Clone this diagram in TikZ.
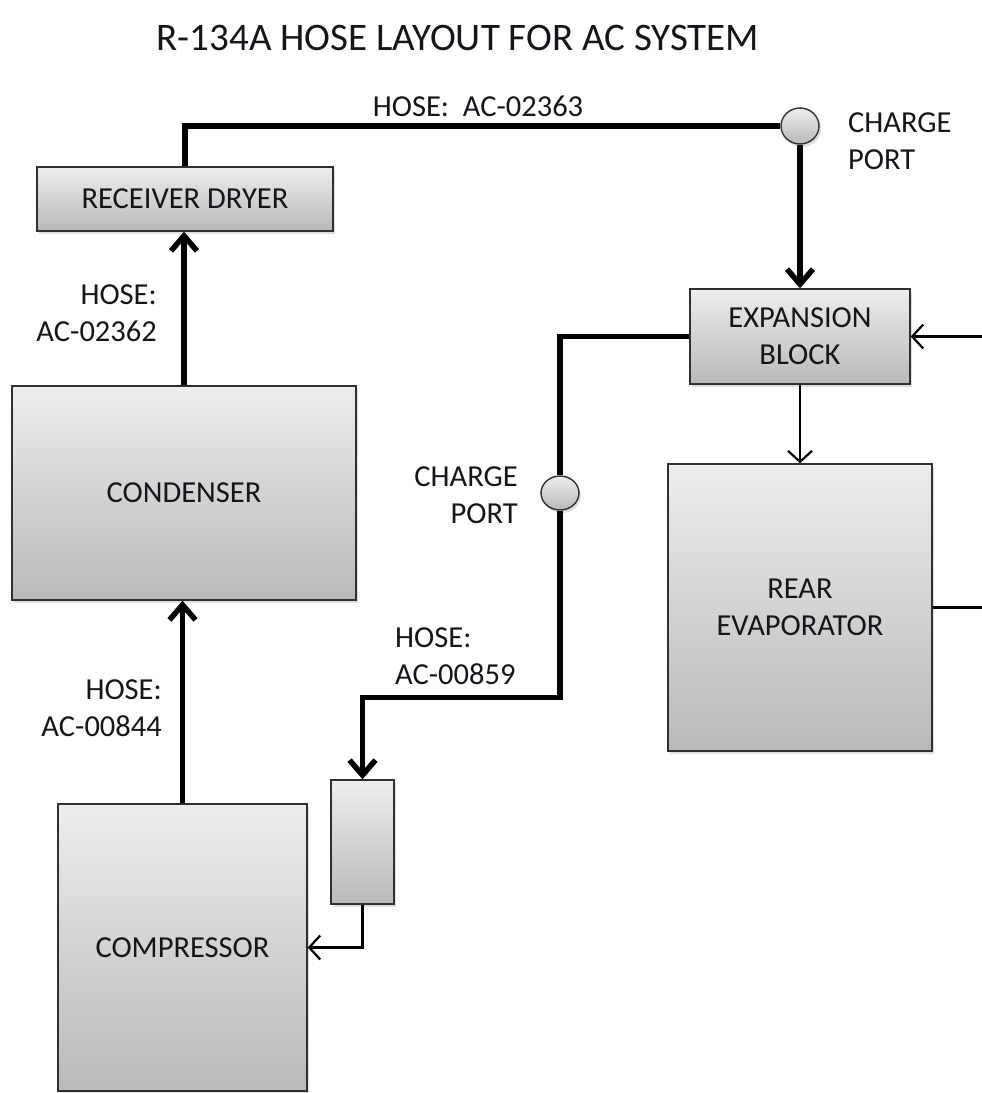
\documentclass[tikz,border=0pt]{standalone}
\usepackage{fontspec}
\setmainfont{Carlito}
\usetikzlibrary{positioning, arrows.meta, shadows, shapes.geometric}
\definecolor{AcInk}{HTML}{15151C}
\definecolor{AcEdge}{HTML}{303030}
\definecolor{AcTop}{HTML}{EDEDED}
\definecolor{AcBot}{HTML}{B9B9B9}
\tikzset{
  acbox/.style   = {draw=AcEdge, line width=1.4pt, top color=AcTop, bottom color=AcBot,
                    align=center, text=AcInk, inner sep=4pt,
                    drop shadow={opacity=0.25, shadow xshift=2pt, shadow yshift=-3pt}},
  acport/.style  = {acbox, ellipse, inner sep=0pt},
  aclbl/.style   = {font=\fontsize{30.5}{37}\selectfont, text=AcInk, inner sep=2pt},
  hose/.style    = {line width=5.5pt, black},
  hosearr/.style = {hose, -{Straight Barb[length=15pt, width=26pt]}},
  thinln/.style  = {line width=2.2pt, black},
  thinarr/.style = {thinln, -{Straight Barb[length=11pt, width=24pt]}},
}
\begin{document}
\begin{tikzpicture}[x=1pt, y=-1pt, font=\fontsize{30.5}{37}\selectfont]
    \useasboundingbox (0,0) rectangle (982,1093);
    \node[aclbl, font=\fontsize{39}{44}\selectfont] (title) at (458,38) {R-134A HOSE LAYOUT FOR AC SYSTEM};
    % boxes
    \node[acbox, minimum width=296pt, minimum height=64pt] (rd) at (185,199) {RECEIVER DRYER};
    \node[acbox, minimum width=344pt, minimum height=214pt] (cond) at (184,493) {CONDENSER};
    \node[acbox, minimum width=249pt, minimum height=287pt] (comp) at (182.5,947.5) {COMPRESSOR};
    \node[acbox, minimum width=220pt, minimum height=95pt] (eb) at (800,336.5) {EXPANSION\\BLOCK};
    \node[acbox, minimum width=264pt, minimum height=287pt] (evap) at (800,607.5) {REAR\\EVAPORATOR};
    \node[acbox, minimum width=63pt, minimum height=124pt] (filt) at (362.5,842) {};
    \node[acport, minimum width=38pt, minimum height=36pt] (cp1) at (800,126) {};
    \node[acport, minimum width=38pt, minimum height=34pt] (cp2) at (560,493) {};
    \coordinate (retin) at (982,336.5);
    \coordinate (retout) at (982,607.5);
    % hoses
    \draw[hose] (rd.north) |- (cp1.west);
    \draw[hosearr] (cp1.south) -- (eb.north);
    \draw[hose] (eb.west) -| (cp2.north);
    \draw[hosearr] (cp2.south) -- ++(0,187) -| (filt.north);
    \draw[hosearr] (comp.north) -- (comp.north |- cond.south);
    \draw[hosearr] (cond.north) -- (cond.north |- rd.south);
    \draw[thinarr] (filt.south) |- (comp.east);
    \draw[thinarr] (eb.south) -- (evap.north);
    \draw[thinarr] (retin) -- (eb.east);
    \draw[thinln] (evap.east) -- (retout);
    % labels
    \node[aclbl] (h02363) at (478,106) {HOSE:\ \ AC-02363};
    \node[aclbl, anchor=west, align=left] (cpl1) at (846,141) {CHARGE\\PORT};
    \node[aclbl, anchor=east, align=right] (cpl2) at (520,495) {CHARGE\\PORT};
    \node[aclbl, anchor=west, align=left] (h00859) at (393,656) {HOSE:\\AC-00859};
    \node[aclbl, anchor=east, align=right] (h00844) at (164,708) {HOSE:\\AC-00844};
    \node[aclbl, anchor=east, align=right] (h02362) at (159,313) {HOSE:\\AC-02362};
  \end{tikzpicture}
\end{document}
